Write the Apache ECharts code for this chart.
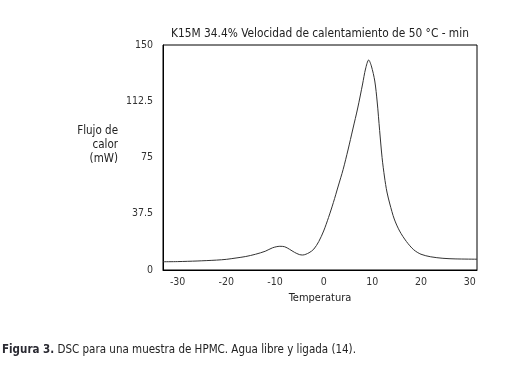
<!DOCTYPE html>
<html>
<head>
<meta charset="utf-8">
<script src="https://cdn.jsdelivr.net/npm/echarts@6/dist/echarts.min.js"></script>
<style>
html,body{margin:0;padding:0;background:#fff;}
#c{width:520px;height:367px;}
</style>
</head>
<body>
<div id="c"></div>
<script>
var temperature = [-33, -30, -26, -22, -20, -18, -16, -14, -12, -10.5, -9, -8, -7, -6, -5, -4.3, -3, -2, -1, 0, 1, 2, 3, 4, 5, 6, 7, 8, 8.6, 9.25, 9.8, 10.5, 11, 11.5, 12, 12.5, 13, 13.6, 14.5, 15.6, 17, 18.5, 20, 22, 24.5, 27, 31.5];
var heatFlow = [5.5, 5.6, 6, 6.6, 7.1, 8, 9, 10.5, 12.5, 14.8, 15.8, 15.5, 13.8, 11.8, 10.3, 10, 11.5, 14, 19, 26, 35, 45, 56, 67, 80, 94, 108, 124, 134, 140, 136, 126, 112, 93, 75, 62, 52, 44, 34, 26, 19, 13.5, 10.5, 8.8, 7.8, 7.4, 7.2];
var xTicks = [-30, -20, -10, 0, 10, 20, 30];
var yTicks = [0, 37.5, 75, 112.5, 150];
var titleText = 'K15M 34.4% Velocidad de calentamiento de 50 °C - min';
var xName = 'Temperatura';
var yNameLines = ['Flujo de', 'calor', '(mW)'];
var captionBold = 'Figura 3.';
var captionText = ' DSC para una muestra de HPMC. Agua libre y ligada (14).';

var FONT = '"DejaVu Sans Condensed", "Liberation Sans Narrow", "Noto Sans", sans-serif';
var chart = echarts.init(document.getElementById('c'), null, {renderer: 'canvas'});
var data = temperature.map(function (t, i) { return [t, heatFlow[i]]; });

chart.setOption({
  animation: false,
  backgroundColor: '#fff',
  title: {
    text: titleText, left: 315, top: 23, textAlign: 'center',
    textStyle: {fontFamily: FONT, fontSize: 11.8, fontWeight: 'normal', color: '#222'}
  },
  grid: {left: 163, right: 43, top: 45, bottom: 97, show: true, borderColor: '#000', borderWidth: 1},
  xAxis: {
    type: 'value', min: -33, max: 31.5,
    name: xName, nameLocation: 'middle', nameGap: 19,
    nameTextStyle: {fontFamily: FONT, fontSize: 11, color: '#222'},
    axisLine: {show: true, onZero: false, lineStyle: {color: '#000', width: 1}},
    axisTick: {show: false},
    splitLine: {show: false},
    axisLabel: {customValues: xTicks, fontFamily: FONT, fontSize: 10.5, color: '#333', margin: 7}
  },
  yAxis: {
    type: 'value', min: 0, max: 150, interval: 37.5,
    axisLine: {show: true, onZero: false, lineStyle: {color: '#000', width: 1}},
    axisTick: {show: false},
    splitLine: {show: false},
    axisLabel: {customValues: yTicks, fontFamily: FONT, fontSize: 10.5, color: '#333', margin: 10}
  },
  graphic: [
    {
      type: 'text', x: 118, y: 124,
      style: {text: yNameLines.join('\n'), fontFamily: FONT, fontSize: 11.5, fill: '#222', align: 'right', lineHeight: 14}
    },
    {
      type: 'text', x: 2, y: 344,
      style: {
        text: '{b|' + captionBold + '}{n|' + captionText + '}',
        rich: {
          b: {fontFamily: FONT, fontSize: 11.5, fontWeight: 'bold', fill: '#2b2b33', color: '#2b2b33'},
          n: {fontFamily: FONT, fontSize: 11.5, fill: '#222', color: '#222'}
        }
      }
    }
  ],
  series: [{
    type: 'line', data: data, smooth: 0.3, showSymbol: false,
    lineStyle: {color: '#333', width: 1}
  }]
});
</script>
</body>
</html>
